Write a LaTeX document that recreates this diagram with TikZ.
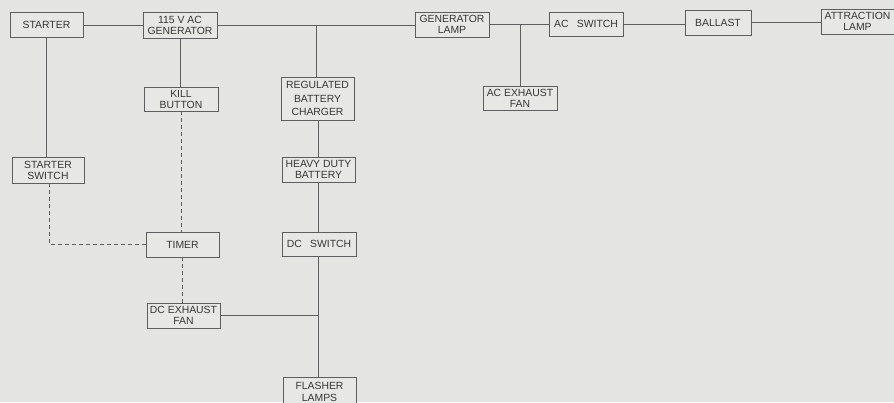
\documentclass[tikz,border=0pt]{standalone}
\usepackage{fontspec}
\setmainfont{Liberation Sans}
\begin{document}
\begin{tikzpicture}[x=1pt,y=-1pt,
  blk/.style={draw=linec, fill=boxc, line width=0.9pt, inner sep=0pt, align=center,
    font=\fontsize{10.4}{11}\selectfont, text=textc},
  wire/.style={draw=linec, line width=0.9pt},
  dwire/.style={draw=linec, line width=0.9pt, dash pattern=on 4pt off 3pt}]
\definecolor{bgc}{HTML}{E4E4E2}
\definecolor{boxc}{HTML}{E7E7E5}
\definecolor{linec}{HTML}{5E5E5E}
\definecolor{textc}{HTML}{363636}
\useasboundingbox (0,0) rectangle (894,402);
\fill[bgc] (0,0) rectangle (894,402);
\clip (0,0) rectangle (894,402);
% nodes
\node[blk, minimum width=73pt, minimum height=25pt] (starter) at (46.5,25) {STARTER};
\node[blk, minimum width=74pt, minimum height=26pt] (gen) at (180,25) {115 V AC\\GENERATOR};
\node[blk, minimum width=74pt, minimum height=25pt] (glamp) at (452,24.5) {GENERATOR\\LAMP};
\node[blk, minimum width=74pt, minimum height=24pt] (acsw) at (586,24) {AC\hspace{0.8em}SWITCH};
\node[blk, minimum width=66pt, minimum height=25pt] (ballast) at (718,22.5) {BALLAST};
\node[blk, minimum width=73pt, minimum height=25pt] (alamp) at (857.5,21.5) {ATTRACTION\\LAMP};
\node[blk, minimum width=74pt, minimum height=24pt] (acfan) at (520,98) {AC EXHAUST\\FAN};
\node[blk, minimum width=74pt, minimum height=24pt] (kill) at (181,99) {KILL\\BUTTON};
\node[blk, minimum width=73pt, minimum height=43pt, font=\fontsize{10.4}{13.5}\selectfont] (charger) at (317.5,98.5) {REGULATED\\BATTERY\\CHARGER};
\node[blk, minimum width=72pt, minimum height=26pt] (sswitch) at (48,170) {STARTER\\SWITCH};
\node[blk, minimum width=73pt, minimum height=25pt, font=\fontsize{10.4}{11.5}\selectfont] (battery) at (318.5,169.5) {HEAVY DUTY\\BATTERY};
\node[blk, minimum width=73pt, minimum height=25pt] (timer) at (182.5,244.5) {TIMER};
\node[blk, minimum width=74pt, minimum height=24pt] (dcsw) at (319,244) {DC\hspace{0.8em}SWITCH};
\node[blk, minimum width=73pt, minimum height=25pt] (dcfan) at (183.5,315.5) {DC EXHAUST\\FAN};
\node[blk, minimum width=73pt, minimum height=29pt, anchor=north, font=\fontsize{10.4}{11.5}\selectfont] (flasher) at (319.5,377) {FLASHER\\LAMPS};
% solid wires
\draw[wire] (starter.east) -- (starter.east -| gen.west);
\draw[wire] (gen.east) -- (gen.east -| glamp.west);
\draw[wire] (glamp.east) -- (glamp.east -| acsw.west);
\draw[wire] (acsw.east) -- (acsw.east -| ballast.west);
\draw[wire] (ballast.east) -- (ballast.east -| alamp.west);
\draw[wire] (charger.north -| 316,0) -- (316,0 |- gen.east);
\draw[wire] (acfan.north) -- (acfan.north |- glamp.east);
\draw[wire] (gen.south -| 180,0) -- (180,0 |- kill.north);
\draw[wire] (starter.south) -- (starter.south |- sswitch.north);
\draw[wire] (charger.south -| 318,0) -- (318,0 |- battery.north);
\draw[wire] (battery.south -| 318,0) -- (318,0 |- dcsw.north);
\draw[wire] (dcsw.south -| 318,0) -- (318,0 |- flasher.north);
\draw[wire] (dcfan.east) -- (dcfan.east -| 318,0);
% dashed wires
\draw[dwire] (kill.south -| 181,0) -- (181,0 |- timer.north);
\draw[dwire] (timer.south -| 182,0) -- (182,0 |- dcfan.north);
\draw[dwire] (sswitch.south -| 49,0) |- (timer.west);
\end{tikzpicture}
\end{document}
